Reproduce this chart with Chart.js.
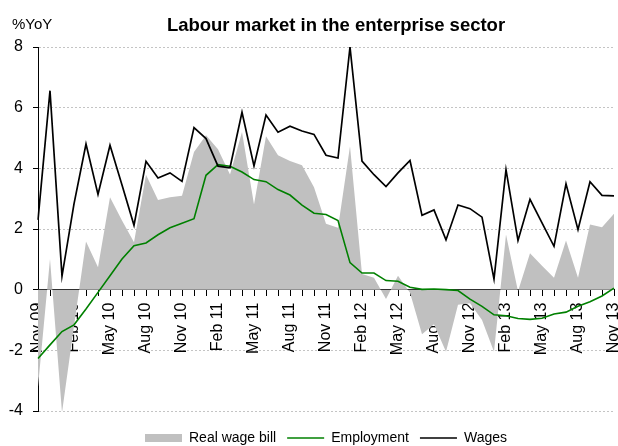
<!DOCTYPE html>
<html>
<head>
<meta charset="utf-8">
<title>Labour market in the enterprise sector</title>
<script src="https://cdn.jsdelivr.net/npm/chart.js@4.4.0/dist/chart.umd.min.js"></script>
<style>
  html, body { margin: 0; padding: 0; background: #fff; }
  #wrap { width: 618px; height: 446px; }
</style>
</head>
<body>
<div id="wrap"><canvas id="labourChart" width="618" height="446"></canvas></div>
<script>
// =======================================================================
// 1. DATA (% YoY, monthly)
// =======================================================================
const months = [
    'Nov 09', 'Dec 09', 'Jan 10', 'Feb 10', 'Mar 10', 'Apr 10', 'May 10', 'Jun 10', 'Jul 10', 'Aug 10',
    'Sep 10', 'Oct 10', 'Nov 10', 'Dec 10', 'Jan 11', 'Feb 11', 'Mar 11', 'Apr 11', 'May 11', 'Jun 11',
    'Jul 11', 'Aug 11', 'Sep 11', 'Oct 11', 'Nov 11', 'Dec 11', 'Jan 12', 'Feb 12', 'Mar 12', 'Apr 12',
    'May 12', 'Jun 12', 'Jul 12', 'Aug 12', 'Sep 12', 'Oct 12', 'Nov 12', 'Dec 12', 'Jan 13', 'Feb 13',
    'Mar 13', 'Apr 13', 'May 13', 'Jun 13', 'Jul 13', 'Aug 13', 'Sep 13', 'Oct 13', 'Nov 13'
];

// only every third month gets a label on the axis
const labelledMonths = [
    'Nov 09', 'Feb 10', 'May 10', 'Aug 10', 'Nov 10', 'Feb 11', 'May 11', 'Aug 11', 'Nov 11',
    'Feb 12', 'May 12', 'Aug 12', 'Nov 12', 'Feb 13', 'May 13', 'Aug 13', 'Nov 13'
];

const realWageBill = [
    -3.2, 1.01, -4.05, -1.2, 1.59, 0.74, 3.05, 2.28, 1.56, 3.79,
    2.96, 3.05, 3.1, 4.54, 5.09, 4.63, 3.8, 5.2, 2.81, 5.06,
    4.43, 4.24, 4.1, 3.38, 2.17, 2.04, 4.73, 0.52, 0.39, -0.31,
    0.46, -0.1, -1.47, -1.14, -2.05, -0.5, -0.45, -1.0, -2.05, 1.82,
    -0.05, 1.2, 0.79, 0.39, 1.62, 0.39, 2.15, 2.06, 2.5
];

const employment = [
    -2.27, -1.82, -1.38, -1.16, -0.64, -0.09, 0.46, 1.01, 1.45, 1.54,
    1.81, 2.04, 2.19, 2.34, 3.77, 4.12, 4.07, 3.88, 3.63, 3.56,
    3.3, 3.12, 2.79, 2.52, 2.48, 2.28, 0.89, 0.55, 0.55, 0.3,
    0.28, 0.08, 0.01, 0.02, 0.0, -0.03, -0.31, -0.55, -0.83, -0.86,
    -0.95, -0.98, -0.94, -0.8, -0.74, -0.55, -0.4, -0.21, 0.05
];

const wages = [
    2.3, 6.56, 0.45, 2.83, 4.8, 3.14, 4.76, 3.45, 2.12, 4.23,
    3.68, 3.85, 3.57, 5.34, 4.98, 4.07, 4.02, 5.85, 4.08, 5.76,
    5.19, 5.39, 5.23, 5.12, 4.43, 4.34, 8.0, 4.24, 3.79, 3.4,
    3.85, 4.26, 2.45, 2.63, 1.64, 2.79, 2.67, 2.39, 0.35, 3.96,
    1.62, 2.98, 2.2, 1.43, 3.49, 1.98, 3.56, 3.11, 3.09
];

const CHART_TITLE = 'Labour market in the enterprise sector';
const UNIT_LABEL = '%YoY';

const FONT = "'Liberation Sans', Arial, sans-serif";

// =======================================================================
// 2. SMALL PLUGINS (header texts, legend centred under the plot)
// =======================================================================
const headerText = {
    id: 'headerText',
    afterDraw(chart) {
        const ctx = chart.ctx;
        ctx.save();
        ctx.fillStyle = '#000';
        ctx.textBaseline = 'alphabetic';
        ctx.textAlign = 'left';
        ctx.font = '15px ' + FONT;
        ctx.fillText(UNIT_LABEL, 12, 29);
        ctx.textAlign = 'center';
        ctx.font = 'bold 18.5px ' + FONT;
        ctx.fillText(CHART_TITLE, 336, 31);
        ctx.restore();
    }
};

const legendUnderPlot = {
    id: 'legendUnderPlot',
    afterLayout(chart) {
        const lg = chart.legend;
        lg.left = chart.chartArea.left;
        lg.right = chart.chartArea.right;
        lg.width = lg.right - lg.left;
        // a little lower than the layout puts it
        lg.top += 9;
        lg.bottom += 9;
    }
};

// =======================================================================
// 3. CHART
// =======================================================================
function drawChart() {
    const ctx = document.getElementById('labourChart').getContext('2d');

    new Chart(ctx, {
        type: 'line',
        data: {
            labels: months,
            datasets: [{
                label: 'Real wage bill',
                data: realWageBill,
                fill: 'origin',
                backgroundColor: '#c0c0c0',
                borderColor: '#c0c0c0',
                borderWidth: 0,
                pointRadius: 0,
                pointStyle: 'rect',
                tension: 0,
                order: 3
            }, {
                label: 'Employment',
                data: employment,
                fill: false,
                backgroundColor: '#008000',
                borderColor: '#008000',
                borderWidth: 1.6,
                pointRadius: 0,
                pointStyle: 'line',
                tension: 0,
                order: 2
            }, {
                label: 'Wages',
                data: wages,
                fill: false,
                backgroundColor: '#000',
                borderColor: '#000',
                borderWidth: 1.7,
                pointRadius: 0,
                pointStyle: 'line',
                tension: 0,
                order: 1
            }]
        },
        options: {
            responsive: false,
            devicePixelRatio: 1,
            animation: false,
            layout: { padding: { top: 47, right: 4, bottom: 0, left: 0 } },
            scales: {
                x: {
                    position: { y: 0 },
                    offset: false,
                    grid: { display: true, drawOnChartArea: false, drawTicks: true, tickLength: 6, color: '#000' },
                    border: { display: true, color: '#000', width: 1 },
                    ticks: {
                        autoSkip: false,
                        minRotation: 90,
                        maxRotation: 90,
                        padding: 7,
                        color: '#000',
                        font: { family: FONT, size: 16 },
                        callback: function(value) {
                            const lab = months[value];
                            return labelledMonths.includes(lab) ? lab : '';
                        }
                    },
                    afterFit: function(scale) {
                        scale.height = 0;
                        scale.paddingLeft = 0;
                        scale.paddingRight = 0;
                    }
                },
                y: {
                    min: -4,
                    max: 8,
                    grid: { color: '#c4c4c4', tickColor: '#000', tickLength: 5, lineWidth: 1 },
                    border: { display: true, color: '#000', width: 1, dash: [2, 2] },
                    ticks: {
                        stepSize: 2,
                        padding: 10,
                        color: '#000',
                        font: { family: FONT, size: 16 }
                    },
                    afterFit: function(scale) { scale.width = 38; }
                }
            },
            plugins: {
                title: { display: false },
                tooltip: { enabled: false },
                legend: {
                    position: 'bottom',
                    maxHeight: 35,
                    labels: {
                        usePointStyle: true,
                        pointStyleWidth: 37,
                        boxHeight: 8,
                        padding: 11,
                        color: '#000',
                        font: { family: FONT, size: 14 },
                        sort: (a, b) => a.datasetIndex - b.datasetIndex
                    }
                }
            }
        },
        plugins: [headerText, legendUnderPlot]
    });
}

// =======================================================================
// 4. START
// =======================================================================
drawChart();
</script>
</body>
</html>
